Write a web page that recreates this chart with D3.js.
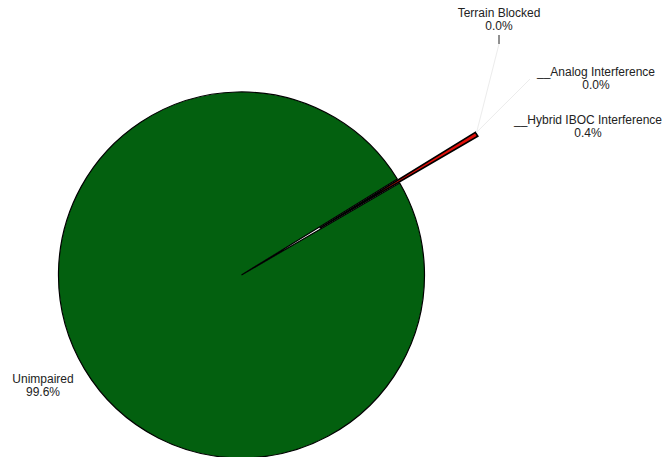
<!DOCTYPE html>
<html>
<head>
<meta charset="utf-8">
<script src="https://cdn.jsdelivr.net/npm/d3@7"></script>
<style>
  html, body { margin: 0; padding: 0; background: #fff; }
  svg { display: block; }
  text { font-family: "Liberation Sans", Arial, sans-serif; font-size: 12px; fill: #222; }
</style>
</head>
<body>
<svg id="chart" width="668" height="457"></svg>
<script>
const categories = ["Unimpaired", "Hybrid IBOC Interference", "Analog Interference", "Terrain Blocked"];
const labelTexts = ["Unimpaired", "__Hybrid IBOC Interference", "__Analog Interference", "Terrain Blocked"];
const values = [99.6, 0.4, 0.0, 0.0];
const colors = ["#03600f", "#e0100a", "#ffffff", "#888888"];
const explode = [0, 91, 91, 91];

const svg = d3.select("#chart");
const cx = 241.5, cy = 275, r = 183;
const total = d3.sum(values);
const redMid = 59.1 * Math.PI / 180;
const redSpan = values[1] / total * 2 * Math.PI;
const startAngle = redMid - redSpan / 2 - 2 * Math.PI * values[0] / total;

const pie = d3.pie().sort(null).value(d => d)
  .startAngle(startAngle).endAngle(startAngle + 2 * Math.PI);
const arcs = pie(values);
const arc = d3.arc().innerRadius(0).outerRadius(r);

const g = svg.append("g").attr("transform", `translate(${cx},${cy})`);

arcs.forEach((a, i) => {
  if (a.endAngle - a.startAngle <= 0) return;
  const mid = (a.startAngle + a.endAngle) / 2;
  const dx = Math.sin(mid) * explode[i], dy = -Math.cos(mid) * explode[i];
  g.append("path")
    .attr("d", arc(a))
    .attr("transform", `translate(${dx},${dy})`)
    .attr("fill", colors[i])
    .attr("stroke", "#000")
    .attr("stroke-width", i === 0 ? 1.2 : 1.7)
    .attr("stroke-linejoin", "miter");
});

// tip of exploded slice
const tipMid = (arcs[1].startAngle + arcs[1].endAngle) / 2;
const tipR = r + explode[1];
const tip = [cx + Math.sin(tipMid) * tipR, cy - Math.cos(tipMid) * tipR];

// labels
const labelPos = [
  { x: 43, y: 383, anchor: null },
  { x: 588, y: 124, anchor: [512, 126] },
  { x: 596, y: 76, anchor: [530, 79] },
  { x: 499, y: 17, anchor: [499, 44] }
];

// leader lines
[3, 2].forEach(i => {
  const p = labelPos[i];
  svg.append("line")
    .attr("x1", tip[0]).attr("y1", tip[1] - 2)
    .attr("x2", p.anchor[0]).attr("y2", p.anchor[1])
    .attr("stroke", "#ececec").attr("stroke-width", 1);
});
svg.append("line")
  .attr("x1", 499).attr("y1", 35).attr("x2", 499).attr("y2", 44)
  .attr("stroke", "#222").attr("stroke-width", 1);

labelPos.forEach((p, i) => {
  const t = svg.append("text").attr("text-anchor", "middle")
    .attr("x", p.x).attr("y", p.y);
  t.append("tspan").attr("x", p.x).attr("dy", 0).text(labelTexts[i]);
  t.append("tspan").attr("x", p.x).attr("dy", 12.5)
    .text(d3.format(".1f")(values[i] / total * 100) + "%");
});
</script>
</body>
</html>
